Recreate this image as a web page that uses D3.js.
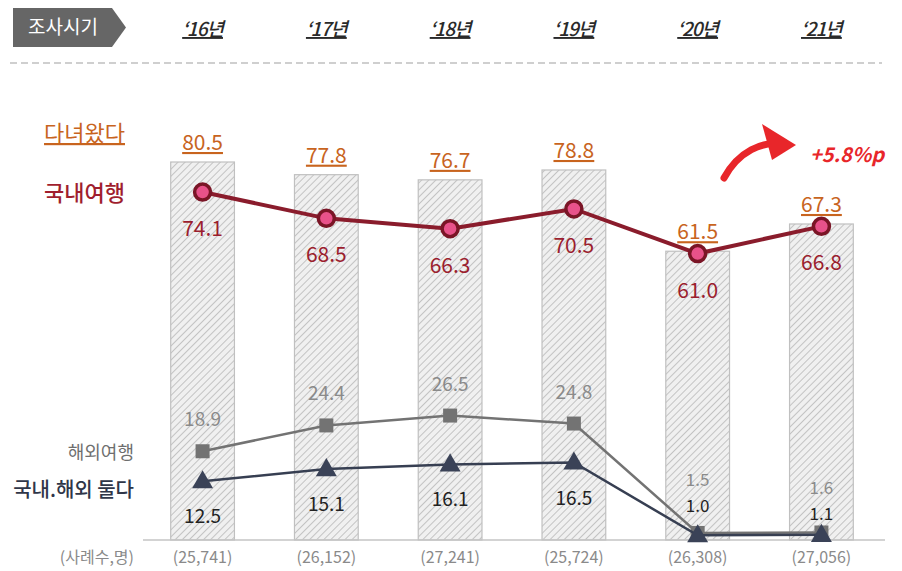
<!DOCTYPE html>
<meta charset="utf-8">
<style>
  body { margin: 0; background: #fff; }
  text { font-family: "Noto Sans CJK KR", "Noto Sans", sans-serif; }
</style>
<svg width="902" height="571"></svg>
<script src="https://cdn.jsdelivr.net/npm/d3@7"></script>
<script>
var years = ["‘16년", "‘17년", "‘18년", "‘19년", "‘20년", "‘21년"]
var samples = ["(25,741)", "(26,152)", "(27,241)", "(25,724)", "(26,308)", "(27,056)"]
var traveled = [80.5, 77.8, 76.7, 78.8, 61.5, 67.3]     // 다녀왔다 (bars)
var domestic = [74.1, 68.5, 66.3, 70.5, 61.0, 66.8]     // 국내여행
var overseas = [18.9, 24.4, 26.5, 24.8, 1.5, 1.6]       // 해외여행
var both = [12.5, 15.1, 16.1, 16.5, 1.0, 1.1]           // 국내.해외 둘다

var svg = d3.select('svg')

var x = d3.scaleBand()
  .domain(years)
  .range([141, 883])
  .paddingInner(0.485)
  .paddingOuter(0.24)

var y = d3.scaleLinear()
  .domain([0, 80.5])
  .range([540, 162])

function cx(i) { return x(years[i]) + x.bandwidth() / 2 }

// small values (last two years) get stacked labels just above the axis
function smallSize(s) { return function (d, i) { return i < 4 ? s : 17 } }

// hatch pattern for bars
var defs = svg.append('defs')
var pat = defs.append('pattern')
  .attr('id', 'hatch')
  .attr('patternUnits', 'userSpaceOnUse')
  .attr('width', 5).attr('height', 5)
  .attr('patternTransform', 'rotate(45)')
pat.append('rect').attr('width', 5).attr('height', 5).attr('fill', '#f0f0f0')
pat.append('line')
  .attr('x1', 0).attr('y1', 0).attr('x2', 0).attr('y2', 5)
  .attr('stroke', '#b4b4b4').attr('stroke-width', 1.5)

// header
svg.append('path')
  .attr('d', 'M13,8 L112,8 L126,27.5 L112,47 L13,47 Z')
  .attr('fill', '#666')
svg.append('text')
  .attr('x', 63).attr('y', 34)
  .attr('text-anchor', 'middle')
  .attr('fill', '#fff')
  .attr('font-size', 19)
  .text('조사시기')

svg.append('g').selectAll('text')
  .data(years)
  .enter().append('text')
    .attr('x', function (d, i) { return cx(i) })
    .attr('y', 36)
    .attr('text-anchor', 'middle')
    .attr('font-size', 19)
    .attr('font-style', 'italic')
    .attr('font-weight', 500)
    .attr('fill', '#2a2a2a')
    .attr('text-decoration', 'underline')
    .attr('letter-spacing', -1)
    .text(function (d) { return d })

svg.append('line')
  .attr('x1', 10).attr('x2', 882)
  .attr('y1', 63).attr('y2', 63)
  .attr('stroke', '#cfcfcf')
  .attr('stroke-width', 2)
  .attr('stroke-dasharray', '7,4')

// bars
svg.append('g').selectAll('rect')
  .data(traveled)
  .enter().append('rect')
    .attr('x', function (d, i) { return x(years[i]) })
    .attr('y', function (d) { return y(d) })
    .attr('width', x.bandwidth())
    .attr('height', function (d) { return y(0) - y(d) })
    .attr('fill', 'url(#hatch)')
    .attr('stroke', '#c0c0c0')
    .attr('stroke-width', 1.2)

// baseline
svg.append('line')
  .attr('x1', 143).attr('x2', 885)
  .attr('y1', y(0)).attr('y2', y(0))
  .attr('stroke', '#c4c4c4')
  .attr('stroke-width', 1.5)

svg.append('g').selectAll('text')
  .data(traveled)
  .enter().append('text')
    .attr('x', function (d, i) { return cx(i) })
    .attr('y', function (d) { return y(d) - 12 })
    .attr('text-anchor', 'middle')
    .attr('font-size', 21)
    .attr('fill', '#c8641e')
    .attr('text-decoration', 'underline')
    .text(function (d) { return d.toFixed(1) })

var line = d3.line()
  .x(function (d, i) { return cx(i) })
  .y(function (d) { return y(d) })

// overseas (gray squares)
svg.append('path')
  .datum(overseas)
  .attr('d', line)
  .attr('fill', 'none')
  .attr('stroke', '#737373')
  .attr('stroke-width', 2.5)
svg.append('g').selectAll('rect')
  .data(overseas)
  .enter().append('rect')
    .attr('x', function (d, i) { return cx(i) - 7 })
    .attr('y', function (d) { return y(d) - 7 })
    .attr('width', 14).attr('height', 14)
    .attr('fill', '#737373')

// both (navy triangles)
svg.append('path')
  .datum(both)
  .attr('d', line)
  .attr('fill', 'none')
  .attr('stroke', '#373f52')
  .attr('stroke-width', 2.5)
svg.append('g').selectAll('path')
  .data(both)
  .enter().append('path')
    .attr('d', d3.symbol().type(d3.symbolTriangle).size(190))
    .attr('transform', function (d, i) { return 'translate(' + cx(i) + ',' + (y(d) + 1) + ')' })
    .attr('fill', '#3a4257')

// domestic (maroon line)
svg.append('path')
  .datum(domestic)
  .attr('d', line)
  .attr('fill', 'none')
  .attr('stroke', '#8a1c2c')
  .attr('stroke-width', 4)
svg.append('g').selectAll('circle')
  .data(domestic)
  .enter().append('circle')
    .attr('cx', function (d, i) { return cx(i) })
    .attr('cy', function (d) { return y(d) })
    .attr('r', 8)
    .attr('fill', '#e8528a')
    .attr('stroke', '#7a1526')
    .attr('stroke-width', 3.5)

svg.append('g').selectAll('text')
  .data(domestic)
  .enter().append('text')
    .attr('x', function (d, i) { return cx(i) })
    .attr('y', function (d) { return y(d) + 44 })
    .attr('text-anchor', 'middle')
    .attr('font-size', 21)
    .attr('fill', '#9b1e2e')
    .text(function (d) { return d.toFixed(1) })

svg.append('g').selectAll('text')
  .data(overseas)
  .enter().append('text')
    .attr('x', function (d, i) { return cx(i) })
    .attr('y', function (d, i) { return i < 4 ? y(d) - 25 : (i === 4 ? 486 : 494) })
    .attr('text-anchor', 'middle')
    .attr('font-size', smallSize(19))
    .attr('fill', '#8a8a8a')
    .text(function (d) { return d.toFixed(1) })

svg.append('g').selectAll('text')
  .data(both)
  .enter().append('text')
    .attr('x', function (d, i) { return cx(i) })
    .attr('y', function (d, i) { return i < 4 ? y(d) + 42 : (i === 4 ? 512 : 520) })
    .attr('text-anchor', 'middle')
    .attr('font-size', smallSize(19))
    .attr('fill', '#222')
    .text(function (d) { return d.toFixed(1) })

// sample sizes
svg.append('g').selectAll('text')
  .data(samples)
  .enter().append('text')
    .attr('x', function (d, i) { return cx(i) })
    .attr('y', 563)
    .attr('text-anchor', 'middle')
    .attr('font-size', 16)
    .attr('fill', '#8a8a8a')
    .text(function (d) { return d })

// left legend labels
svg.append('text')
  .attr('x', 125).attr('y', 141)
  .attr('text-anchor', 'end')
  .attr('font-size', 22)
  .attr('fill', '#c8641e')
  .attr('text-decoration', 'underline')
  .text('다녀왔다')
svg.append('text')
  .attr('x', 125).attr('y', 201)
  .attr('text-anchor', 'end')
  .attr('font-size', 22)
  .attr('font-weight', 500)
  .attr('fill', '#a01e2e')
  .text('국내여행')
svg.append('text')
  .attr('x', 134).attr('y', 459)
  .attr('text-anchor', 'end')
  .attr('font-size', 18)
  .attr('fill', '#6e6e6e')
  .text('해외여행')
svg.append('text')
  .attr('x', 134).attr('y', 497)
  .attr('text-anchor', 'end')
  .attr('font-size', 20)
  .attr('font-weight', 500)
  .attr('fill', '#2f3648')
  .text('국내.해외 둘다')
svg.append('text')
  .attr('x', 134).attr('y', 563)
  .attr('text-anchor', 'end')
  .attr('font-size', 16)
  .attr('fill', '#8a8a8a')
  .text('(사례수,명)')

// growth arrow
svg.append('path')
  .attr('d', 'M724,178 C738,152 762,140 786,144')
  .attr('fill', 'none')
  .attr('stroke', '#e8262a')
  .attr('stroke-width', 7)
  .attr('stroke-linecap', 'round')
svg.append('path')
  .attr('d', 'M762,124 L796,145 L772,160 Z')
  .attr('fill', '#e8262a')
svg.append('text')
  .attr('x', 810).attr('y', 162)
  .attr('font-size', 20)
  .attr('font-style', 'italic')
  .attr('font-weight', 'bold')
  .attr('fill', '#e8262a')
  .text('+5.8%p')
</script>
